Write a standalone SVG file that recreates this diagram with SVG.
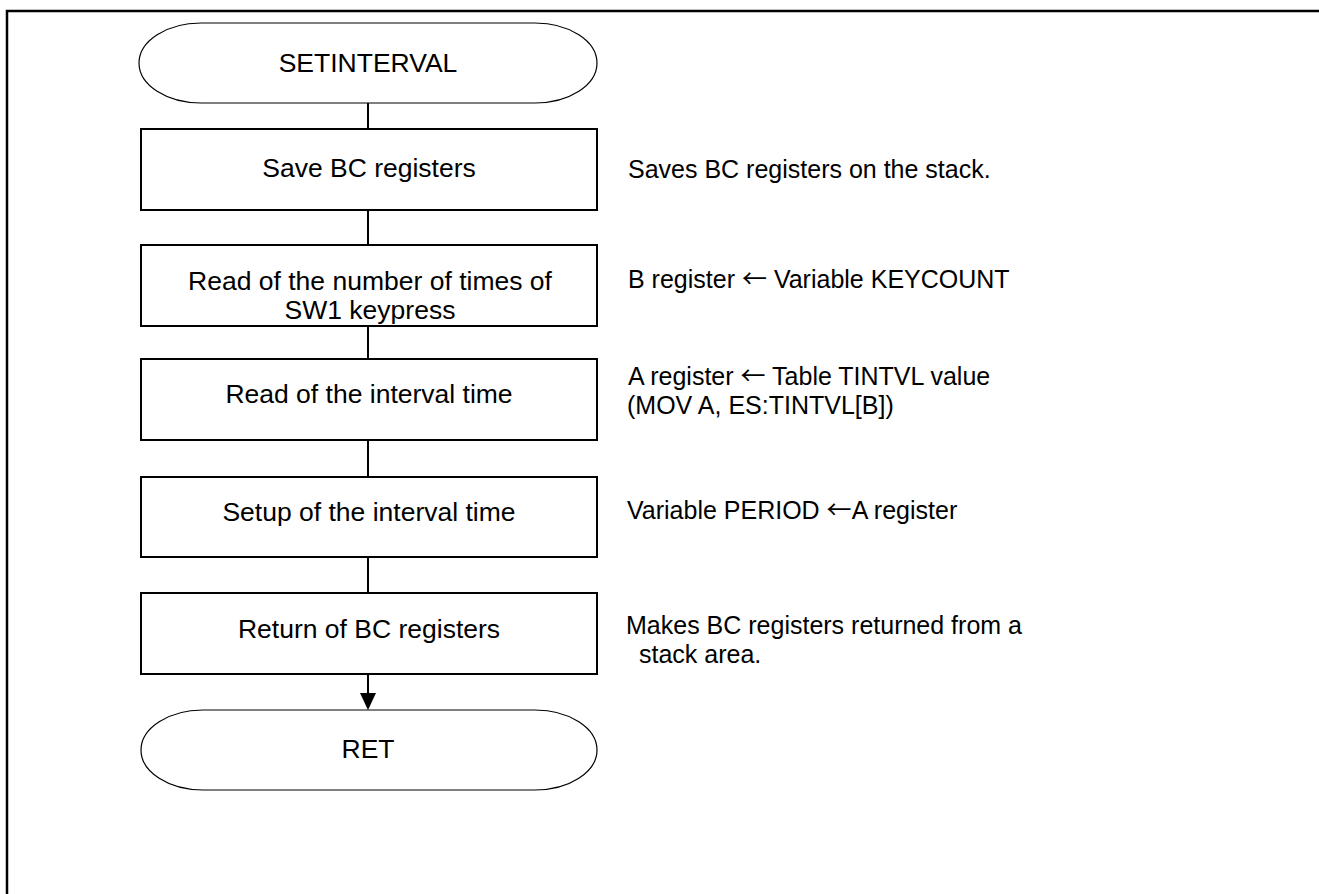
<svg xmlns="http://www.w3.org/2000/svg" width="1319" height="894" viewBox="0 0 1319 894">
<style>
.t{font-family:"Liberation Sans",Arial,sans-serif;font-size:26.5px;fill:#000}
.n{font-family:"Liberation Sans",Arial,sans-serif;font-size:25px;fill:#000}
.ar{font-family:"Noto Sans CJK JP","Liberation Sans",sans-serif}
.c{text-anchor:middle}
.box{fill:#fff;stroke:#000;stroke-width:2}
.term{fill:#fff;stroke:#000;stroke-width:1.2}
.ln{stroke:#000;stroke-width:2;fill:none}
</style>
<rect width="1319" height="894" fill="#fff"/>
<path d="M7,894 V11 H1319" fill="none" stroke="#000" stroke-width="2.5"/>
<g id="connectors">
<line class="ln" x1="368" y1="103" x2="368" y2="129"/>
<line class="ln" x1="368" y1="210" x2="368" y2="245"/>
<line class="ln" x1="368" y1="326" x2="368" y2="359"/>
<line class="ln" x1="368" y1="440" x2="368" y2="477"/>
<line class="ln" x1="368" y1="557" x2="368" y2="593"/>
<line class="ln" x1="368" y1="674" x2="368" y2="693"/>
<path d="M360,693 L376,693 L368,710 Z" fill="#000"/>
</g>
<g id="start">
<path class="term" d="M201,23 H535 A62,40 0 0 1 535,103 H201 A62,40 0 0 1 201,23 Z"/>
<text class="t c" x="368" y="72">SETINTERVAL</text>
</g>
<g id="save">
<rect class="box" x="141" y="129" width="456" height="81"/>
<text class="t c" x="369" y="177">Save BC registers</text>
</g>
<g id="readcount">
<rect class="box" x="141" y="245" width="456" height="81"/>
<text class="t c" x="370" y="290">Read of the number of times of</text>
<text class="t c" x="370" y="319">SW1 keypress</text>
</g>
<g id="readinterval">
<rect class="box" x="141" y="359" width="456" height="81"/>
<text class="t c" x="369" y="403">Read of the interval time</text>
</g>
<g id="setup">
<rect class="box" x="141" y="477" width="456" height="80"/>
<text class="t c" x="369" y="521">Setup of the interval time</text>
</g>
<g id="return">
<rect class="box" x="141" y="593" width="456" height="81"/>
<text class="t c" x="369" y="638">Return of BC registers</text>
</g>
<g id="ret">
<path class="term" d="M203,710 H535 A62,40 0 0 1 535,790 H203 A62,40 0 0 1 203,710 Z"/>
<text class="t c" x="368" y="758">RET</text>
</g>
<g id="notes">
<text class="n" x="628" y="178">Saves BC registers on the stack.</text>
<text class="n" x="628" y="288">B register <tspan class="ar">←</tspan> Variable KEYCOUNT</text>
<text class="n" x="628" y="385">A register <tspan class="ar">←</tspan> Table TINTVL value</text>
<text class="n" x="627" y="414">(MOV A, ES:TINTVL[B])</text>
<text class="n" x="627" y="519">Variable PERIOD <tspan class="ar">←</tspan>A register</text>
<text class="n" x="626" y="634">Makes BC registers returned from a</text>
<text class="n" x="639" y="663">stack area.</text>
</g>
</svg>
